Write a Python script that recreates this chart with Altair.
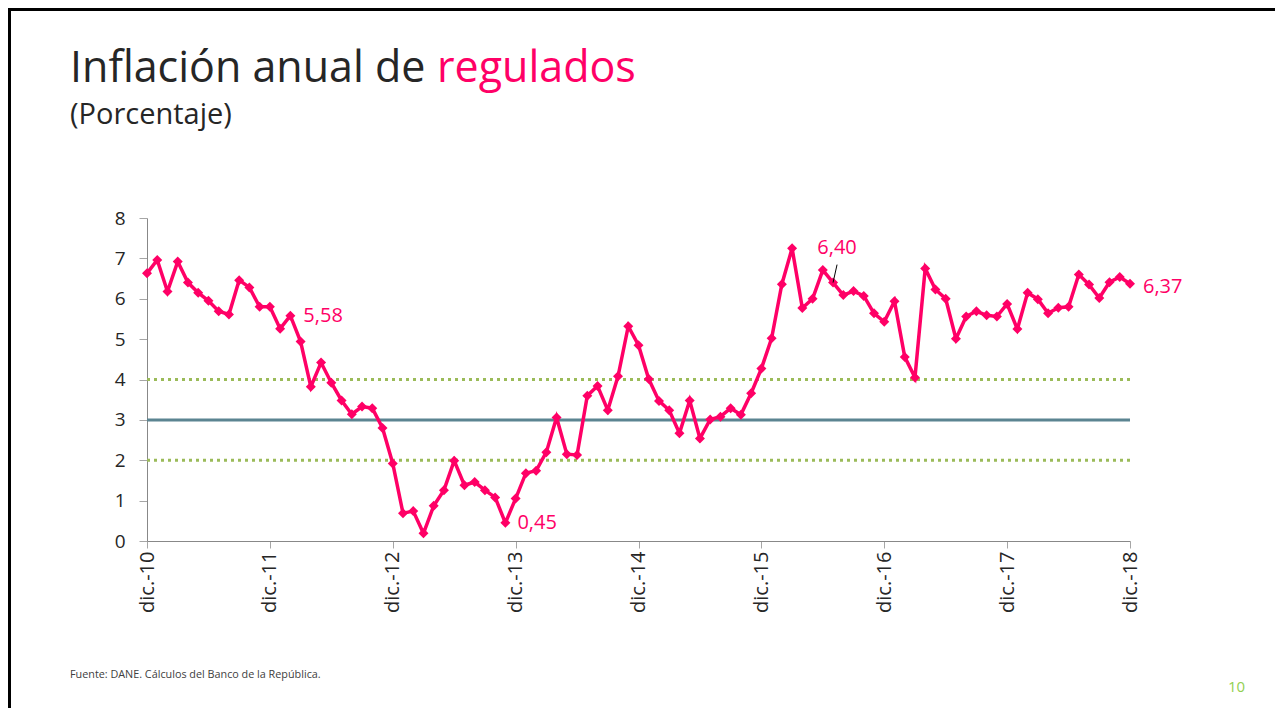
import altair as alt
import pandas as pd

# ---- data ----
months = pd.date_range("2010-12-01", "2018-12-01", freq="MS").strftime("%Y-%m").tolist()
values = [
    6.63, 6.96, 6.18, 6.92, 6.40, 6.15, 5.95, 5.69, 5.61, 6.46, 6.28, 5.80,
    5.80, 5.26, 5.58, 4.94, 3.82, 4.42, 3.92, 3.48, 3.14, 3.33, 3.29, 2.80,
    1.92, 0.69, 0.74, 0.19, 0.87, 1.26, 1.99, 1.38, 1.46, 1.26, 1.08, 0.45,
    1.05, 1.68, 1.74, 2.20, 3.06, 2.15, 2.13, 3.60, 3.84, 3.24, 4.08, 5.32,
    4.85, 4.01, 3.47, 3.24, 2.67, 3.48, 2.54, 3.01, 3.08, 3.29, 3.13, 3.66,
    4.27, 5.02, 6.36, 7.25, 5.77, 6.00, 6.71, 6.40, 6.09, 6.19, 6.07, 5.64,
    5.43, 5.94, 4.56, 4.05, 6.75, 6.23, 6.00, 5.01, 5.56, 5.69, 5.59, 5.56,
    5.87, 5.25, 6.15, 5.99, 5.64, 5.78, 5.80, 6.60, 6.35, 6.02, 6.41, 6.54,
    6.37,
]
tick_labels = ["dic.-10", "dic.-11", "dic.-12", "dic.-13", "dic.-14",
               "dic.-15", "dic.-16", "dic.-17", "dic.-18"]
target = 3
band = [2, 4]
annot_months = ["2012-02", "2013-11", "2016-07", "2018-12"]
annot_text = ["5,58", "0,45", "6,40", "6,37"]

title_main = "Inflación anual de "
title_hi = "regulados"
subtitle = "(Porcentaje)"
source = "Fuente: DANE. Cálculos del Banco de la República."
page_no = "10"

# ---- tables ----
df = pd.DataFrame({"mes": months, "v": values})
df["i"] = range(len(df))
ann = df[df["mes"].isin(annot_months)].copy()
ann["lab"] = [annot_text[annot_months.index(m)] for m in ann["mes"]]

FONT = "Open Sans"
PINK = "#FF0066"
W, H = 983, 323
PL, PT = 139, 210
TOTW, TOTH = 1267, 700

label_expr = "[" + ",".join("'%s'" % t for t in tick_labels) + "][round(datum.value/12)]"

x_enc = alt.X("i:Q", scale=alt.Scale(domain=[0, 96], nice=False, zero=False),
              axis=alt.Axis(values=list(range(0, 97, 12)), labelExpr=label_expr,
                            labelAngle=270, labelAlign="right", labelBaseline="middle",
                            labelFontSize=20, labelFont=FONT, labelColor="#262626",
                            tickSize=7, tickColor="#A6A6A6", domainColor="#888888",
                            labelPadding=3, grid=False, title=None))
y_enc = alt.Y("v:Q", scale=alt.Scale(domain=[0, 8], nice=False),
              axis=alt.Axis(values=list(range(0, 9)), labelFontSize=19, labelFont=FONT,
                            labelColor="#262626", tickSize=8, tickColor="#A6A6A6",
                            domainColor="#888888", labelPadding=14, grid=False, title=None))

base = alt.Chart(df)

band_df = pd.DataFrame({"y": band})
band_rules = alt.Chart(band_df).mark_rule(color="#9BBB59", strokeWidth=3,
                                          strokeDash=[3, 4]).encode(y=alt.Y("y:Q"))
target_rule = alt.Chart(pd.DataFrame({"y": [target]})).mark_rule(
    color="#5B8491", strokeWidth=3).encode(y=alt.Y("y:Q"))

line = base.mark_line(color=PINK, strokeWidth=3.5).encode(x=x_enc, y=y_enc)
pts = base.mark_point(shape="diamond", filled=True, size=100, color=PINK,
                      opacity=1).encode(x="i:Q", y="v:Q")

def ann_layer(lab, **kw):
    return alt.Chart(ann[ann["lab"] == lab]).mark_text(
        font=FONT, fontSize=20, color=PINK, baseline="middle", **kw
    ).encode(x="i:Q", y="v:Q", text="lab:N")

a1 = ann_layer("5,58", align="left", dx=13, dy=0)
a2 = ann_layer("0,45", align="left", dx=12, dy=0)
a3 = ann_layer("6,40", align="center", dx=4, dy=-35)
a4 = ann_layer("6,37", align="left", dx=13, dy=3)
leader = alt.Chart(ann[ann["lab"] == "6,40"]).mark_rule(
    color="#000000", strokeWidth=1, x2Offset=4, y2Offset=-18).encode(
    x="i:Q", y="v:Q", x2="i:Q", y2="v:Q")

def txt(s, x, y, size, color, **kw):
    return alt.Chart(pd.DataFrame({"t": [s]})).mark_text(
        font=FONT, fontSize=size, color=color, align="left", **kw
    ).encode(text="t:N", x=alt.value(x), y=alt.value(y))

t1 = txt(title_main, -77, -136, 43, "#262626", baseline="alphabetic")
t2 = txt(title_hi, 290, -136, 43, PINK, baseline="alphabetic")
t3 = txt(subtitle, -77, -94, 29, "#262626", baseline="alphabetic")
t4 = txt(source, -77, 457, 10.8, "#404040", baseline="middle")
t5 = txt(page_no, 1081, 469, 15, "#92D050", baseline="middle")

border_top = alt.Chart(pd.DataFrame({"k": [0]})).mark_rule(color="#000000", strokeWidth=3).encode(
    x=alt.value(-PL), x2=alt.value(TOTW - PL), y=alt.value(-PT + 1.5))
border_left = alt.Chart(pd.DataFrame({"k": [0]})).mark_rule(color="#000000", strokeWidth=3).encode(
    x=alt.value(-PL + 1.5), y=alt.value(-PT), y2=alt.value(TOTH - PT))

chart = alt.layer(
    band_rules, target_rule, line, pts, leader, a1, a2, a3, a4,
    t1, t2, t3, t4, t5, border_top, border_left
).properties(
    width=W, height=H,
    background="white",
    autosize=alt.AutoSizeParams(type="none"),
    padding={"left": PL, "top": PT, "right": TOTW - PL - W, "bottom": TOTH - PT - H},
).configure_view(stroke="transparent", strokeWidth=0)

chart.save("out.html", embed_options={"renderer": "svg", "actions": False})
